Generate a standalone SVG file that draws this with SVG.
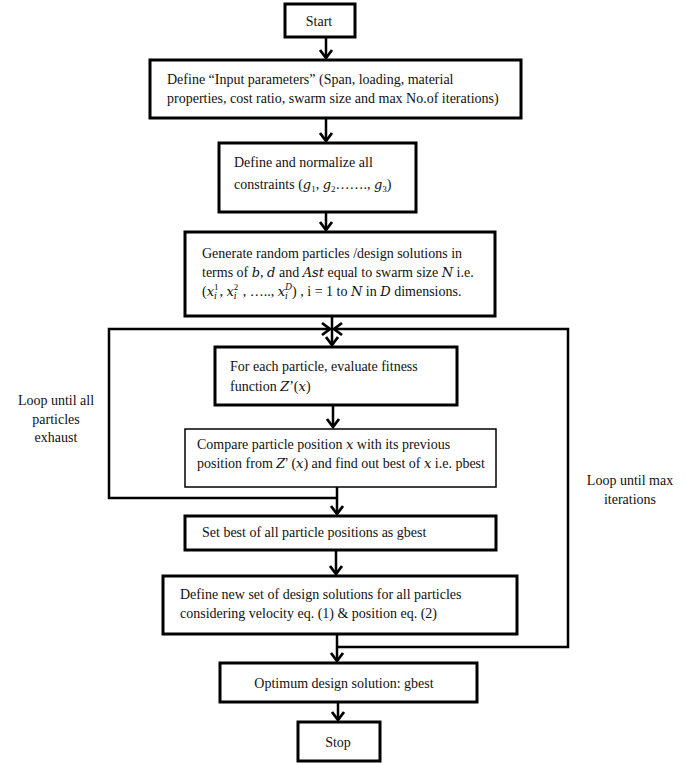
<svg xmlns="http://www.w3.org/2000/svg" width="685" height="763" viewBox="0 0 685 763">
<defs>
<style>
.box{fill:#fff;stroke:#000;stroke-width:3}
.thin{stroke-width:1.5}
.t{font-family:"Liberation Serif","Times New Roman","DejaVu Serif",serif;font-size:14px;fill:#111}
.m{font-style:italic;font-family:"DejaVu Serif","Liberation Serif",serif;font-size:13px}
.s{font-size:9px}
.c{text-anchor:middle}
.conn{fill:none;stroke:#000;stroke-width:2.5}
</style>
<marker id="ah" markerUnits="userSpaceOnUse" markerWidth="20" markerHeight="20" viewBox="-10 -10 20 20" refX="0" refY="0" orient="auto">
<path d="M-8,-6 L0,0 L-8,6" fill="none" stroke="#000" stroke-width="2.8"/>
</marker>
</defs>
<rect width="685" height="763" fill="#fff"/>
<g id="connectors">
<line class="conn" x1="326" y1="37" x2="326" y2="58" marker-end="url(#ah)"/>
<line class="conn" x1="326" y1="118" x2="326" y2="141" marker-end="url(#ah)"/>
<line class="conn" x1="326" y1="212" x2="326" y2="230" marker-end="url(#ah)"/>
<line class="conn" x1="332" y1="316" x2="332" y2="345" marker-end="url(#ah)"/>
<line class="conn" x1="333" y1="405" x2="333" y2="427" marker-end="url(#ah)"/>
<line class="conn" x1="337" y1="487" x2="337" y2="514" marker-end="url(#ah)"/>
<line class="conn" x1="336" y1="550" x2="336" y2="574" marker-end="url(#ah)"/>
<line class="conn" x1="337" y1="634" x2="337" y2="661" marker-end="url(#ah)"/>
<line class="conn" x1="338" y1="702" x2="338" y2="720" marker-end="url(#ah)"/>
<path class="conn" d="M337,498 H109 V329 H330" stroke-width="3" marker-end="url(#ah)"/>
<path class="conn" d="M337,647 H568 V329 H334" stroke-width="3" marker-end="url(#ah)"/>
</g>
<g id="start">
<rect class="box" x="285" y="4" width="70" height="33"/>
<text class="t c" x="319" y="26">Start</text>
</g>
<g id="input">
<rect class="box" x="150" y="60" width="371" height="58"/>
<text class="t" x="167" y="84">Define “Input parameters” (Span, loading, material</text>
<text class="t" x="167" y="103">properties, cost ratio, swarm size and max No.of iterations)</text>
</g>
<g id="constraints">
<rect class="box" x="219" y="143" width="197" height="69" stroke-width="2.5"/>
<text class="t" x="234" y="167">Define and normalize all</text>
<text class="t" x="234" y="189">constraints (<tspan class="m">g</tspan><tspan class="s" dy="3">1</tspan><tspan dy="-3">, </tspan><tspan class="m">g</tspan><tspan class="s" dy="3">2</tspan><tspan dy="-3">……., </tspan><tspan class="m">g</tspan><tspan class="s" dy="3">3</tspan><tspan dy="-3">)</tspan></text>
</g>
<g id="generate">
<rect class="box" x="185" y="232" width="310" height="84"/>
<text class="t" x="202" y="258">Generate random particles /design solutions in</text>
<text class="t" x="202" y="277">terms of <tspan class="m">b</tspan>, <tspan class="m">d</tspan> and <tspan class="m">Ast</tspan> equal to swarm size <tspan class="m">N</tspan> i.e.</text>
<text class="t" x="202" y="296">(<tspan class="m">x</tspan><tspan class="m s" dy="3">i</tspan><tspan class="s" dx="-3" dy="-9">1</tspan><tspan dx="1" dy="6">, </tspan><tspan class="m">x</tspan><tspan class="m s" dy="3">i</tspan><tspan class="s" dx="-3" dy="-9">2</tspan><tspan dx="1" dy="6"> , ….., </tspan><tspan class="m">x</tspan><tspan class="m s" dy="3">i</tspan><tspan class="m s" dx="-3" dy="-9">D</tspan><tspan dy="6">) , i = 1 to </tspan><tspan class="m">N</tspan> in <tspan class="m">D</tspan> dimensions.</text>
</g>
<g id="evaluate">
<rect class="box" x="215" y="347" width="242" height="58" stroke-width="3.5"/>
<text class="t" x="230" y="371">For each particle, evaluate fitness</text>
<text class="t" x="230" y="391">function <tspan class="m">Z</tspan>’(<tspan class="m">x</tspan>)</text>
</g>
<g id="compare">
<rect class="box thin" x="185" y="429" width="311" height="58"/>
<text class="t" x="197" y="449">Compare particle position <tspan class="m">x</tspan> with its previous</text>
<text class="t" x="197" y="468">position from <tspan class="m">Z</tspan>' (<tspan class="m">x</tspan>) and find out best of <tspan class="m">x</tspan> i.e. pbest</text>
</g>
<g id="gbest">
<rect class="box" x="185" y="516" width="311" height="34"/>
<text class="t" x="202" y="537">Set best of all particle positions as gbest</text>
</g>
<g id="update">
<rect class="box" x="163" y="576" width="354" height="58"/>
<text class="t" x="180" y="599">Define new set of design solutions for all particles</text>
<text class="t" x="180" y="618">considering velocity eq. (1) &amp; position eq. (2)</text>
</g>
<g id="optimum">
<rect class="box" x="220" y="663" width="257" height="39"/>
<text class="t c" x="344" y="688">Optimum design solution: gbest</text>
</g>
<g id="stop">
<rect class="box" x="298" y="722" width="82" height="39" stroke-width="2.5"/>
<text class="t c" x="338" y="747">Stop</text>
</g>
<g id="labels">
<text class="t c" x="56" y="405">Loop until all</text>
<text class="t c" x="56" y="424">particles</text>
<text class="t c" x="56" y="442">exhaust</text>
<text class="t c" x="630" y="485">Loop until max</text>
<text class="t c" x="630" y="504">iterations</text>
</g>
</svg>
